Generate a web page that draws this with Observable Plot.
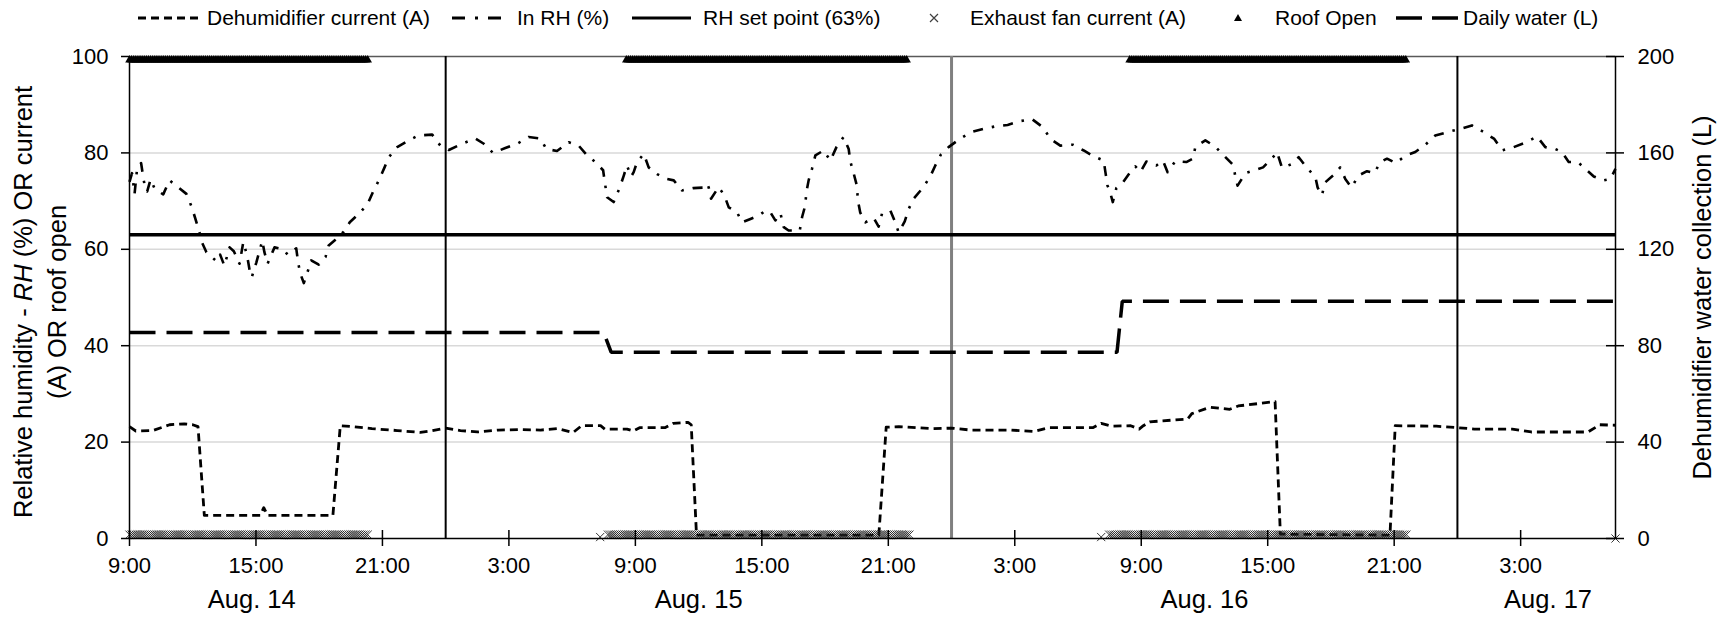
<!DOCTYPE html>
<html><head><meta charset="utf-8">
<script src="https://cdn.jsdelivr.net/npm/d3@7"></script>
<script src="https://cdn.jsdelivr.net/npm/@observablehq/plot@0.6"></script>
<style>
body{margin:0;background:#fff;font-family:"Liberation Sans",Arial,sans-serif;color:#000;}
#legend{position:relative;width:1728px;height:38px;font-size:21px;}
#legend .t{position:absolute;top:0;line-height:36px;white-space:nowrap;}
#legend svg{position:absolute;top:0;}
</style></head><body>
<div id="legend"></div>
<div id="chart"></div>
<script>
// time = hours since Aug. 14 00:00
const xDomain = [9, 79.5];
const xTicks = [9, 15, 21, 27, 33, 39, 45, 51, 57, 63, 69, 75];
const yTicks = [0, 20, 40, 60, 80, 100];
const gridLevels = [20, 40, 60, 80];
const midnights = [24, 48, 72];
const dayLabels = ["Aug. 14", "Aug. 15", "Aug. 16", "Aug. 17"];
const dayLabelHours = [14.8, 36, 60, 76.3];
const rhSetPoint = 63;

// In RH (%)
const inRH = [[9.00,74.0],[9.12,75.8],[9.24,71.5],[9.36,76.7],[9.55,77.9],[9.65,75.0],[9.75,72.5],[9.84,72.0],[10.0,74.5],[10.2,72.5],[10.6,71.4],[10.9,74.3],[11.1,73.6],[11.7,71.5],[11.95,68.8],[12.1,66.7],[12.29,64.0],[12.45,61.3],[12.65,59.4],[13.13,57.5],[13.3,58.9],[13.5,56.6],[13.75,60.4],[13.95,59.6],[14.22,57.0],[14.4,61.5],[14.58,58.7],[14.7,55.6],[14.8,54.2],[15.02,57.3],[15.3,61.8],[15.4,59.4],[15.55,57.0],[15.88,60.4],[16.3,60.0],[16.5,58.9],[16.91,60.2],[17.0,57.3],[17.1,55.0],[17.27,53.0],[17.5,56.0],[17.62,57.7],[17.98,56.8],[18.3,58.4],[18.45,60.8],[18.77,62.0],[19.15,63.6],[19.45,65.6],[19.91,67.5],[20.3,69.4],[20.55,71.9],[20.83,74.3],[21.1,77.0],[21.3,79.1],[21.7,81.2],[22.25,82.6],[22.7,83.6],[23.36,83.8],[23.75,81.5],[24.15,80.6],[24.78,81.9],[25.41,83.0],[25.81,81.9],[26.25,80.0],[26.83,81.0],[27.39,81.9],[27.94,83.3],[28.49,83.0],[28.78,80.8],[29.28,80.4],[29.84,82.2],[30.31,81.5],[30.71,79.5],[31.1,78.1],[31.47,76.4],[31.55,73.9],[31.66,70.8],[31.97,69.8],[32.26,72.8],[32.45,75.3],[32.6,77.4],[32.8,75.1],[32.92,76.0],[33.08,78.1],[33.4,79.8],[33.63,77.0],[34.03,75.6],[34.5,74.6],[34.82,74.3],[35.21,72.2],[35.74,72.7],[36.24,72.8],[36.4,73.6],[36.48,72.8],[36.59,70.5],[36.95,72.9],[37.22,71.2],[37.43,68.7],[37.82,67.7],[38.06,65.6],[38.46,66.3],[38.85,67.0],[39.17,68.0],[39.4,67.7],[39.64,66.0],[39.88,67.5],[40.04,64.6],[40.27,63.9],[40.8,63.9],[40.91,66.7],[41.06,69.1],[41.11,71.8],[41.22,74.3],[41.38,76.7],[41.54,79.5],[41.93,80.5],[42.25,78.4],[42.54,81.2],[42.88,83.3],[43.12,80.8],[43.2,78.2],[43.36,75.7],[43.52,73.0],[43.55,70.3],[43.67,67.6],[43.91,65.6],[44.31,66.5],[44.54,64.7],[44.7,67.4],[45.1,68.0],[45.33,65.6],[45.49,63.5],[45.78,65.8],[45.97,68.4],[46.2,70.5],[46.63,72.7],[46.99,75.1],[47.23,77.4],[47.5,79.7],[47.86,81.2],[48.42,83.0],[48.92,84.3],[49.52,85.0],[50.08,85.5],[50.66,85.8],[51.26,86.6],[51.82,87.0],[52.34,85.3],[52.69,82.9],[53.16,81.5],[53.75,81.7],[54.27,80.5],[54.74,79.3],[55.22,78.4],[55.3,76.0],[55.4,73.2],[55.5,72.2],[55.65,69.8],[55.82,72.7],[56.13,73.9],[56.48,76.0],[56.72,77.2],[56.96,76.0],[57.24,78.2],[57.72,77.4],[58.03,78.4],[58.25,76.0],[58.62,78.3],[59.14,78.1],[59.45,78.8],[59.57,81.3],[60.04,82.6],[60.51,81.3],[60.91,79.5],[61.38,77.4],[61.46,75.1],[61.57,73.2],[61.94,75.8],[62.33,76.3],[62.78,77.0],[63.25,79.1],[63.44,80.2],[63.68,76.9],[64.15,77.7],[64.47,79.1],[64.86,76.9],[65.26,75.0],[65.37,72.8],[65.57,71.2],[65.73,73.9],[66.1,75.3],[66.44,77.0],[66.68,74.6],[66.97,72.8],[67.31,75.3],[67.71,76.2],[68.06,75.8],[68.34,78.1],[68.66,78.8],[69.08,77.9],[69.53,79.4],[70.0,80.2],[70.48,81.7],[70.95,83.6],[71.51,84.3],[72.14,85.0],[72.69,85.7],[73.25,84.3],[73.75,82.9],[74.12,80.5],[74.67,81.2],[75.26,82.2],[75.78,83.4],[76.17,81.2],[76.65,80.8],[76.96,80.2],[77.28,78.1],[77.71,78.1],[78.07,76.7],[78.47,75.1],[78.94,74.3],[79.26,74.6],[79.5,76.7]];

// Dehumidifier current (A)
const dehumCurrent = [[9.0,23.2],[9.3,22.3],[10.1,22.4],[10.9,23.6],[11.6,23.8],[12.0,23.6],[12.25,23.2],[12.55,4.8],[15.2,4.8],[15.37,6.4],[15.55,4.8],[18.65,4.8],[19.0,23.4],[19.6,23.2],[20.5,22.8],[21.7,22.4],[22.8,22.0],[23.3,22.3],[24.0,22.9],[24.7,22.4],[25.5,22.1],[26.5,22.5],[27.5,22.6],[28.5,22.5],[29.3,22.8],[30.05,22.0],[30.45,23.4],[31.35,23.4],[31.55,22.7],[32.6,22.7],[32.9,22.3],[33.2,23.0],[34.4,23.0],[34.8,23.9],[35.5,24.1],[35.65,23.6],[35.9,0.7],[44.55,0.7],[44.9,23.1],[45.5,23.2],[47.1,22.8],[48.0,22.9],[48.9,22.5],[50.8,22.5],[51.9,22.2],[52.6,23.0],[54.7,23.0],[55.1,23.9],[55.6,23.3],[56.5,23.4],[56.9,22.7],[57.1,23.4],[57.4,24.2],[59.2,24.8],[59.4,25.9],[60.1,27.0],[60.3,27.2],[61.2,26.8],[61.6,27.5],[63.35,28.4],[63.6,0.9],[68.8,0.7],[69.05,23.4],[71.0,23.3],[72.0,23.0],[72.8,22.7],[74.6,22.7],[75.5,22.1],[78.2,22.1],[78.75,23.6],[79.5,23.5]];

// Daily water (L), right axis
const dailyWater = [[9.0,85.5],[31.5,85.5],[31.85,77.3],[55.85,77.3],[56.1,98.4],[79.5,98.4]];

// Exhaust fan current (A): logged on-periods at a constant level, plus isolated readings
const fanOnPeriods = [[9.0,20.3],[31.7,46.03],[55.48,69.6]];
const fanOnLevel = 0.8;
const fanSingles = [[31.33,0.3],[55.1,0.3],[79.5,0]];
// Roof open periods (value 100)
const roofOpenPeriods = [[9.0,20.3],[32.57,45.92],[56.45,69.59]];
const roofOpenLevel = 100;
const logStep = 0.1; // hours between logged readings

const fanPoints = [];
fanOnPeriods.forEach(([a,b]) => { for (let h = a; h <= b + 1e-9; h += logStep) fanPoints.push([h, fanOnLevel]); });
fanSingles.forEach(p => fanPoints.push(p));
const roofPoints = [];
roofOpenPeriods.forEach(([a,b]) => { for (let h = a; h <= b + 1e-9; h += logStep) roofPoints.push([h, roofOpenLevel]); });

const FONT = "'Liberation Sans', Arial, sans-serif";

const svg = Plot.plot({
  width: 1728, height: 583,
  marginTop: 18, marginBottom: 83, marginLeft: 129, marginRight: 113,
  style: {fontFamily: FONT, fontSize: "22px", background: "#fff", color: "#000", overflow: "visible"},
  x: {domain: xDomain},
  y: {domain: [0, 100]},
  marks: [
    Plot.ruleY(gridLevels, {stroke: "#d9d9d9", strokeWidth: 1.5}),
    Plot.ruleY([100], {stroke: "#595959", strokeWidth: 1.5}),
    Plot.ruleX(midnights.filter((d,i) => i !== 1), {y1: 0, y2: 100, stroke: "#000", strokeWidth: 2}),
    Plot.ruleX(midnights.filter((d,i) => i === 1), {y1: 0, y2: 100, stroke: "#808080", strokeWidth: 3}),
    Plot.ruleY([rhSetPoint], {stroke: "#000", strokeWidth: 3.5}),
    Plot.line(dailyWater, {x: d => d[0], y: d => d[1] / 2, stroke: "#000", strokeWidth: 3.5, strokeDasharray: "26,11", strokeLinecap: "butt", strokeLinejoin: "miter"}),
    Plot.line(dehumCurrent, {x: d => d[0], y: d => d[1], stroke: "#000", strokeWidth: 2.8, strokeDasharray: "8,5", strokeLinecap: "butt"}),
    Plot.line(inRH, {x: d => d[0], y: d => d[1], stroke: "#000", strokeWidth: 2.6, strokeDasharray: "10,9,2.5,9", strokeLinecap: "butt"}),
    Plot.dot(fanPoints, {x: d => d[0], y: d => d[1], symbol: "times", r: 3.8, stroke: "#222", strokeWidth: 0.9}),
    Plot.dot(roofPoints, {x: d => d[0], y: d => d[1], symbol: "triangle", r: 3.2, fill: "#000", stroke: "none", dy: 3.5}),
    Plot.ruleX([xDomain[0], xDomain[1]], {y1: 0, y2: 100, stroke: "#000", strokeWidth: 1.5}),
    Plot.ruleY([0], {stroke: "#000", strokeWidth: 1.5}),
    Plot.ruleX(xTicks, {y1: 0, y2: 0, insetTop: -8, insetBottom: -8, stroke: "#000", strokeWidth: 1.5}),
    Plot.ruleY(yTicks, {x1: xDomain[0], x2: xDomain[0], insetLeft: -8, stroke: "#000", strokeWidth: 1.5}),
    Plot.ruleY(yTicks, {x1: xDomain[1], x2: xDomain[1], insetLeft: -9, insetRight: -9, stroke: "#000", strokeWidth: 1.5}),
    Plot.axisX({ticks: xTicks, tickSize: 0, tickPadding: 19.3, tickFormat: h => (h % 24) + ":00", fontSize: 22, label: null}),
    Plot.axisY({ticks: yTicks, anchor: "left", tickSize: 0, tickPadding: 21, fontSize: 22, label: null}),
    Plot.axisY({ticks: yTicks, anchor: "right", tickSize: 0, tickPadding: 22, tickFormat: d => d * 2, fontSize: 22, label: null}),
    Plot.text(dayLabels, {x: (d, i) => dayLabelHours[i], y: 0, text: d => d, dy: 61.5, fontSize: 25.5, lineAnchor: "middle", textAnchor: "middle", fill: "#000"})
  ]
});
document.getElementById("chart").append(svg);

// axis titles
const s = d3.select(svg);
const tg = s.append("g").attr("font-family", FONT).attr("font-size", 25.5).attr("fill", "#000");
const l1 = tg.append("text").attr("transform", "translate(32,264) rotate(-90)").attr("text-anchor", "middle");
l1.append("tspan").text("Relative humidity - ");
l1.append("tspan").attr("font-style", "italic").text("RH");
l1.append("tspan").text(" (%) OR current");
tg.append("text").attr("transform", "translate(65.5,264) rotate(-90)").attr("text-anchor", "middle").text("(A) OR roof open");
tg.append("text").attr("transform", "translate(1711,259.5) rotate(-90)").attr("text-anchor", "middle").text("Dehumidifier water collection (L)");

// legend
const legend = d3.select("#legend");
function sampleLine(left, w, dash, sw) {
  const g = legend.append("svg").style("left", left + "px").attr("width", w).attr("height", 36);
  g.append("line").attr("x1", 0).attr("x2", w).attr("y1", 18).attr("y2", 18)
    .attr("stroke", "#000").attr("stroke-width", sw).attr("stroke-dasharray", dash);
}
function label(left, text) { legend.append("div").attr("class", "t").style("left", left + "px").text(text); }
sampleLine(138, 63, "8,5", 2.8); label(207, "Dehumidifier current (A)");
sampleLine(452, 49, "13,10,3,10", 2.8); label(517, "In RH (%)");
sampleLine(632, 59, null, 3); label(703, "RH set point (63%)");
{ const g = legend.append("svg").style("left", "928px").attr("width", 12).attr("height", 36);
  g.append("path").attr("d", "M2,14L10,22M2,22L10,14").attr("stroke", "#404040").attr("stroke-width", 1.2); }
label(970, "Exhaust fan current (A)");
{ const g = legend.append("svg").style("left", "1233px").attr("width", 12).attr("height", 36);
  g.append("path").attr("d", "M5,14L9,21L1,21Z").attr("fill", "#000"); }
label(1275, "Roof Open");
sampleLine(1396, 62, "26,10", 3.5); label(1463, "Daily water (L)");
</script>
</body></html>
